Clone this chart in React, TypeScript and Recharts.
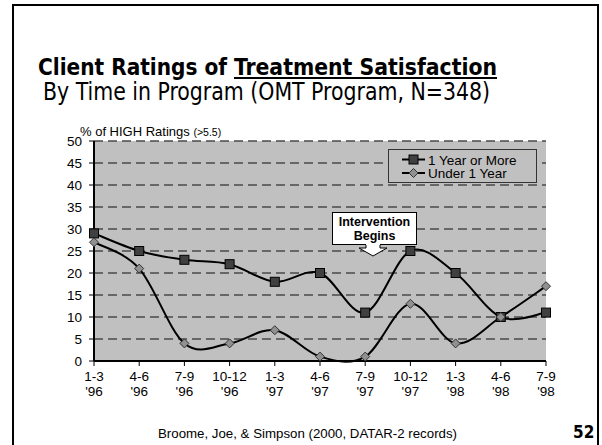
import React from 'react';
import { LineChart, Line, XAxis, YAxis, CartesianGrid, Legend } from 'recharts';

const quarters = ['1-3', '4-6', '7-9', '10-12', '1-3', '4-6', '7-9', '10-12', '1-3', '4-6', '7-9'];
const years = ["'96", "'96", "'96", "'96", "'97", "'97", "'97", "'97", "'98", "'98", "'98"];
const oneYearOrMore = [29, 25, 23, 22, 18, 20, 11, 25, 20, 10, 11];
const underOneYear = [27, 21, 4, 4, 7, 1, 1, 13, 4, 10, 17];
const yTicks = [0, 5, 10, 15, 20, 25, 30, 35, 40, 45, 50];

const data = quarters.map((q, i) => ({
  period: `${q} ${years[i]}`,
  more: oneYearOrMore[i],
  under: underOneYear[i],
}));

const FONT = "'Liberation Sans', Arial, sans-serif";
const TFONT = "'DejaVu Sans Condensed', 'DejaVu Sans', sans-serif";

// Excel-like smoothed line (Catmull-Rom style Bezier)
function smoothCurve(context: any) {
  let pts: number[][] = [];
  return {
    areaStart() {},
    areaEnd() {},
    lineStart() { pts = []; },
    lineEnd() {
      const n = pts.length;
      if (!n) return;
      context.moveTo(pts[0][0], pts[0][1]);
      for (let i = 0; i < n - 1; i++) {
        const p0 = pts[i - 1] || pts[i];
        const p1 = pts[i];
        const p2 = pts[i + 1];
        const p3 = pts[i + 2] || pts[i + 1];
        const t = 1 / 6;
        context.bezierCurveTo(
          p1[0] + (p2[0] - p0[0]) * t, p1[1] + (p2[1] - p0[1]) * t,
          p2[0] - (p3[0] - p1[0]) * t, p2[1] - (p3[1] - p1[1]) * t,
          p2[0], p2[1]
        );
      }
    },
    point(x: number, y: number) { pts.push([+x, +y]); },
  };
}

const SquareDot = (props: any) => {
  const { cx, cy, index } = props;
  return <rect key={`sq-${index}`} x={cx - 4.5} y={cy - 4.5} width={9} height={9} fill="#404040" stroke="#000" strokeWidth={1} />;
};

const DiamondDot = (props: any) => {
  const { cx, cy, index } = props;
  const r = 4.5;
  return <path key={`dm-${index}`} d={`M${cx},${cy - r}L${cx + r},${cy}L${cx},${cy + r}L${cx - r},${cy}Z`} fill="#909090" stroke="#333" strokeWidth={1} />;
};

const XTick = (props: any) => {
  const { x, y, index } = props;
  return (
    <g transform={`translate(${x},${y})`}>
      <text textAnchor="middle" fontSize={13.5} fontFamily={FONT} fill="#000">
        <tspan x={0} dy={13}>{quarters[index]}</tspan>
        <tspan x={0} dy={14.5}>{years[index]}</tspan>
      </text>
    </g>
  );
};

const LegendContent = (props: any) => {
  const payload = props.payload || [];
  return (
    <svg width={149} height={34} style={{ display: 'block' }}>
      <rect x={0.5} y={0.5} width={148} height={33} fill="#c0c0c0" stroke="#333" strokeWidth={1} />
      {payload.map((p: any, i: number) => {
        const cy = 10.5 + i * 13.5;
        const isSq = p.dataKey === 'more';
        return (
          <g key={p.dataKey}>
            <line x1={14} x2={37} y1={cy} y2={cy} stroke="#000" strokeWidth={2} />
            {isSq ? (
              <rect x={21} y={cy - 4.5} width={9} height={9} fill="#404040" stroke="#000" />
            ) : (
              <path d={`M25.5,${cy - 4.5}L30,${cy}L25.5,${cy + 4.5}L21,${cy}Z`} fill="#909090" stroke="#333" />
            )}
            <text x={40} y={cy + 5} fontSize={13.5} fontFamily={FONT} fill="#000">{p.value}</text>
          </g>
        );
      })}
    </svg>
  );
};

export default function App() {
  return (
    <div style={{ position: 'absolute', left: 0, top: 0, width: 602, height: 445, background: '#fff', overflow: 'hidden' }}>
      <div style={{ position: 'absolute', left: 12, top: 4, width: 583, height: 500, border: '2px solid #000' }} />
      <svg width={602} height={445} style={{ position: 'absolute', left: 0, top: 0 }}>
        <text x={38} y={75} fontSize={23} fontWeight="bold" fontFamily={TFONT} textLength={189} lengthAdjust="spacingAndGlyphs" fill="#000">Client Ratings of</text>
        <text x={234} y={75} fontSize={23} fontWeight="bold" fontFamily={TFONT} textLength={263} lengthAdjust="spacingAndGlyphs" fill="#000">Treatment Satisfaction</text>
        <line x1={234} x2={497} y1={78} y2={78} stroke="#000" strokeWidth={2} />
        <text x={43} y={100} fontSize={24} fontFamily={TFONT} textLength={447} lengthAdjust="spacingAndGlyphs" fill="#000">By Time in Program (OMT Program, N=348)</text>
        <text x={80} y={136} fontSize={13} fontFamily={FONT} fill="#000">% of HIGH Ratings <tspan fontSize={10.5}>(&gt;5.5)</tspan></text>
        <text x={158} y={438} fontSize={12.5} fontFamily={FONT} textLength={299} lengthAdjust="spacingAndGlyphs" fill="#000">Broome, Joe, &amp; Simpson (2000, DATAR-2 records)</text>
        <text x={573} y={438} fontSize={17} fontWeight="bold" fontFamily={TFONT} fill="#000">52</text>
      </svg>
      <div style={{ position: 'absolute', left: 0, top: 0 }}>
        <LineChart width={602} height={445} data={data} margin={{ top: 141, right: 56, bottom: 0, left: 0 }}>
          <CartesianGrid vertical={false} fill="#c0c0c0" stroke="#4a4a4a" strokeWidth={1.5} strokeDasharray="9 5" />
          <XAxis dataKey="period" scale="point" padding={{ left: 0, right: 0 }} interval={0} tick={<XTick />} tickSize={5} tickMargin={2} axisLine={{ stroke: '#000', strokeWidth: 2 }} tickLine={{ stroke: '#000' }} height={84} />
          <YAxis domain={[0, 50]} ticks={yTicks} interval={0} width={94} tickSize={5} tickMargin={7} axisLine={{ stroke: '#000', strokeWidth: 2 }} tickLine={{ stroke: '#000' }} tick={{ fontSize: 13.5, fontFamily: FONT, fill: '#000' }} />
          <YAxis yAxisId="right" orientation="right" width={0} domain={[0, 50]} tick={false} tickLine={false} axisLine={{ stroke: '#808080', strokeWidth: 1.5 }} />
          <Legend layout="horizontal" verticalAlign="middle" align="center" content={<LegendContent />} wrapperStyle={{ position: 'absolute', left: 388, top: 149, width: 149, height: 34 }} />
          <Line dataKey="more" name="1 Year or More" type={smoothCurve as any} stroke="#000" strokeWidth={2} dot={SquareDot} activeDot={false} isAnimationActive={false} />
          <Line dataKey="under" name="Under 1 Year" type={smoothCurve as any} stroke="#000" strokeWidth={2} dot={DiamondDot} activeDot={false} isAnimationActive={false} />
        </LineChart>
      </div>
      <div style={{ position: 'absolute', left: 332, top: 212, width: 83, height: 29, background: '#fff', border: '1px solid #000', fontFamily: FONT, fontWeight: 'bold', fontSize: 12.5, lineHeight: '14px', textAlign: 'center', paddingTop: 2, boxSizing: 'content-box' }}>
        Intervention<br />Begins
      </div>
      <svg width={602} height={445} style={{ position: 'absolute', left: 0, top: 0, pointerEvents: 'none' }}>
        <polygon points="366,244 380,244 380,248 387,248 373,256 359,248 366,248" fill="#fff" stroke="none" />
        <polyline points="366,245 366,248 359,248 373,256 387,248 380,248 380,245" fill="none" stroke="#000" strokeWidth={1} />
      </svg>
    </div>
  );
}
